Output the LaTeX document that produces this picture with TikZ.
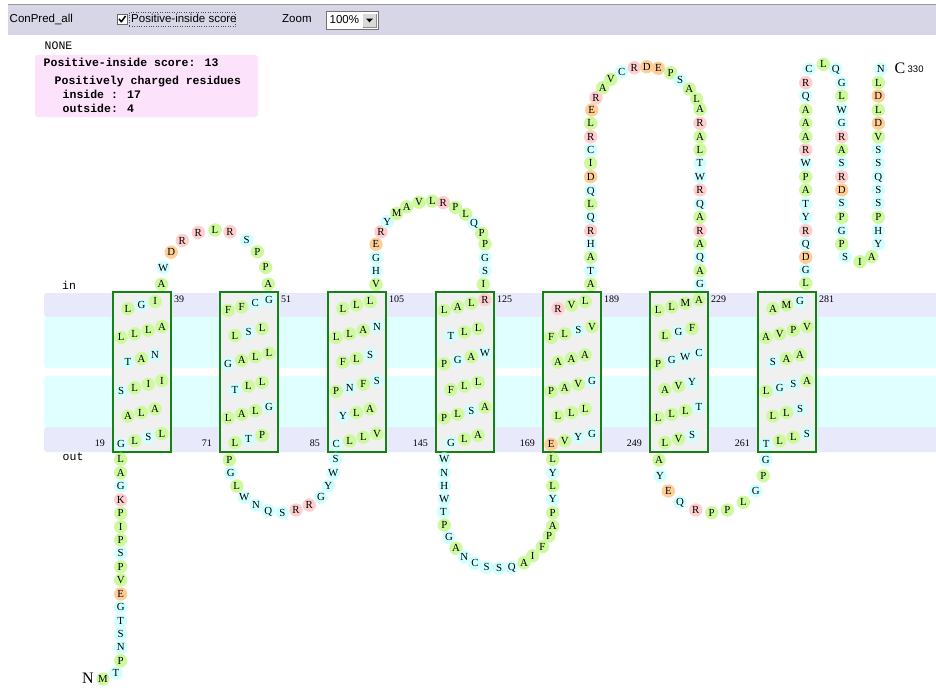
\documentclass[tikz,border=0pt]{standalone}
\usepackage{fontspec}
\setmainfont{Liberation Serif}
\newfontfamily\monof{Liberation Mono}
\newfontfamily\sansf{Liberation Sans}
\definecolor{hg}{RGB}{206,250,158}
\definecolor{hc}{RGB}{208,255,255}
\definecolor{hp}{RGB}{255,206,206}
\definecolor{ho}{RGB}{255,206,150}
\definecolor{lav}{RGB}{232,234,252}
\definecolor{cyb}{RGB}{224,255,255}
\definecolor{barc}{RGB}{214,214,230}
\definecolor{pinkc}{RGB}{252,226,250}
\definecolor{boxg}{RGB}{20,130,20}
\colorlet{cA}{hg}\colorlet{cF}{hg}\colorlet{cI}{hg}\colorlet{cL}{hg}
\colorlet{cM}{hg}\colorlet{cP}{hg}\colorlet{cV}{hg}
\colorlet{cC}{hc}\colorlet{cG}{hc}\colorlet{cH}{hc}\colorlet{cN}{hc}
\colorlet{cQ}{hc}\colorlet{cS}{hc}\colorlet{cT}{hc}\colorlet{cW}{hc}\colorlet{cY}{hc}
\colorlet{cK}{hp}\colorlet{cR}{hp}
\colorlet{cD}{ho}\colorlet{cE}{ho}
\tikzset{
  res/.style={inner sep=0pt, text height=7.1pt, text depth=0pt, font=\fontsize{10.8}{11}\selectfont},
  numl/.style={inner sep=0pt, text height=6.7pt, text depth=0pt, font=\fontsize{10}{10}\selectfont},
  hbox/.style={draw=boxg, line width=1.8pt, fill=black!6},
  monot/.style={inner sep=0pt, anchor=west, text height=7pt, text depth=1.5pt, font=\monof\fontsize{11.5}{12}\selectfont},
  monob/.style={monot, font=\monof\bfseries\fontsize{11.5}{12}\selectfont},
  uit/.style={inner sep=0pt, anchor=west, text height=8pt, text depth=2pt, font=\sansf\fontsize{11.5}{12}\selectfont}
}
\newif\ifcircs
\newcount\resno
\newcommand\rr[3]{%
  \global\advance\resno by 1
  \ifcircs
    \edef\tmpc{c#1}%
    \fill[fill=\tmpc] (#2,#3) circle (6.7);%
  \else
    \node[res] (res\the\resno) at (#2,#3) {#1};%
  \fi}
\newcommand\hrow[3]{%
  \foreach \l [count=\k] in {#3} {\xdef\nn{\k}}%
  \foreach \l [count=\k] in {#3} {%
    \pgfmathsetmacro\xx{#1+(\k-(\nn+1)/2)*13.6}%
    \pgfmathsetmacro\yy{#2-(\k-(\nn+1)/2)*3.6}%
    \rr{\l}{\xx}{\yy}}}
\newcommand\helix[7]{%
  \pgfmathsetmacro\cx{#1+28.5}%
  \hrow{\cx}{305}{#2}\hrow{\cx}{332}{#3}\hrow{\cx}{358.5}{#4}%
  \hrow{\cx}{386}{#5}\hrow{\cx}{412.5}{#6}\hrow{\cx}{439}{#7}}
\newcommand\hframe[3]{%
  \draw[hbox] (#1,292) rectangle ++(58,160);
  \node[numl,anchor=west] (top#1) at (#1+61,299) {#2};
  \node[numl,anchor=east] (bot#1) at (#1-8,443.5) {#3};}
\newcommand\resloop[1]{\foreach \a/\b/\c in {#1} {\rr{\a}{\b}{\c}}}
\newcommand\allres{%
\helix{113}{L,G,I}{L,L,L,A}{T,A,N}{S,L,I,I}{A,L,A}{G,L,S,L}
\helix{220}{F,F,C,G}{L,S,L}{G,A,L,L}{T,L,L}{L,A,L,G}{L,T,P}
\helix{328}{L,L,L}{L,L,A,N}{F,L,S}{P,N,F,S}{Y,L,A}{C,L,L,V}
\helix{436}{L,A,L,R}{T,L,L}{P,G,A,W}{F,L,L}{P,L,S,A}{G,L,A}
\helix{543}{R,V,L}{F,L,S,V}{A,A,A}{P,A,V,G}{L,L,L}{E,V,Y,G}
\helix{650}{L,L,M,A}{L,G,F}{P,G,W,C}{A,V,Y}{L,L,L,T}{L,V,S}
\helix{758}{A,M,G}{A,V,P,V}{S,A,A}{L,G,S,A}{L,L,S}{T,L,L,S}
\resloop{M/103/679, T/116/673, P/120.7/660.7, N/120.7/647.3, S/120.7/634, T/120.7/620.7, G/120.7/607.3, E/120.7/594, V/120.7/580, P/120.7/566.7, S/120.7/553.3, P/120.7/540, I/120.7/526.7, P/120.7/513.3, K/120.7/500, G/120.7/486, A/120.7/472.7, L/120.7/459.3}
\resloop{A/161.5/284.3, W/163.3/267.5, D/171.2/252.2, R/182.3/240.5, R/198.3/232.5, L/215/230, R/230/231.7, S/246.7/240, P/257.3/251.7, P/265.7/267.3, A/268.3/284}
\resloop{P/229.3/460, G/230.7/472.7, L/236.7/486, W/244.3/497.3, N/256/505, Q/268.3/510.7, S/282.3/512.7, R/296/510, R/309.3/505, G/321/497.3, Y/328.3/486, W/333.3/473.3, S/335.7/459.3}
\resloop{V/376/284.3, H/376/270.7, G/376/257.7, E/376/244.3, R/381/231.7, Y/387.3/221.7, M/396.7/213.3, A/406.7/206.7, V/419/202.3, L/432.3/201, R/443.3/202.7, P/455.3/207.3, L/465.7/214.3, Q/474/223.3, P/481.7/233.3, P/485/244, G/485/257.7, S/485/270.7, I/483.3/284.3}
\resloop{W/444.3/459, N/444.3/472.7, H/444.3/485.7, W/444.3/499, T/443.3/511.7, P/444.3/525, G/449/537.3, A/456/548.3, N/464.3/556.7, C/475/563.3, S/486.7/567.3, S/499/568.3, Q/511.7/567.3, A/524/562.7, I/532.7/555.7, F/542.3/546.7, P/549/535.7, A/552.7/526, P/552.7/512.7, Y/552.7/499.3, L/552.7/486, Y/552.7/472.7, L/552.7/459.3}
\resloop{A/590.7/284.3, T/590.7/270.7, A/590.7/257.3, H/590.7/244, R/590.7/230.7, Q/590.7/217.3, L/590.7/204, Q/590.7/190.7, D/590.7/176.7, I/590.7/163.3, C/590.7/150, R/590.7/136.7, L/590.7/123.3, E/591.7/110, R/596/97.7, A/602.7/87.7, V/610.7/79.3, C/621.7/71.7, R/634.3/67.7, D/646.7/66.7, E/658.3/68.3, P/670.7/72.7, S/680/80, A/689.3/89, L/696.7/99, A/700/109.3, R/700/123.3, A/700/136.7, L/700/150, T/700/163.3, W/700/176.7, R/700/190, Q/700/204, A/700/217.3, R/700/230.7, A/700/244, Q/700/257.3, A/700/270.7, G/700/284.3}
\resloop{A/659/460, Y/660/475.7, E/668.3/491, Q/680/502.3, R/695.7/510, P/711.7/512.7, P/727.3/510, L/743.3/502.3, G/755.7/491, P/763.3/475.7, G/765.7/460}
\resloop{L/805.7/283.3, G/805.7/270.3, D/805.7/257.3, Q/805.7/244, R/805.7/230.7, Y/805.7/217.3, T/805.7/203.7, A/805.7/190, P/805.7/176.7, W/805.7/163.3, R/805.7/150, A/805.7/136.7, A/805.7/123.3, A/805.7/110, Q/805.7/96, R/805.7/82.7, C/809/69, L/823.3/64.3, Q/835.7/69, G/841.7/82.7, L/841.7/96, W/841.7/110, G/841.7/123.3, R/841.7/136.7, A/841.7/150, S/841.7/163.3, R/841.7/176.7, D/841.7/190, S/841.7/203.3, P/841.7/217.3, G/841.7/230.7, P/841.7/244, S/845/256.7, I/860/261.7, A/871.7/256.7, Y/878.3/244, H/878.3/230.7, P/878.3/217.3, S/878.3/203.3, S/878.3/190, Q/878.3/176.7, S/878.3/163.3, S/878.3/150, V/878.3/136.7, D/878.3/123.3, L/878.3/110, D/878.3/96, L/878.3/82.7, N/880.7/69}}
\begin{document}
\begin{tikzpicture}[x=1pt,y=-1pt]
\useasboundingbox (0,0) rectangle (936,688);
\fill[white] (0,0) rectangle (936,688);
% top bar
\fill[barc] (8,4) rectangle (936,35);
\draw[black!40, line width=1pt] (8,4.5) -- (936,4.5);
\node[uit] (conpred) at (9.5,19.5) {ConPred\_all};
\node[draw=black!60, fill=white, minimum size=10pt, inner sep=0pt] (cbox) at (122,19) {};
\draw[line width=1.5pt, line join=round] (119,18.8) -- (121.3,21.8) -- (125.5,16);
\draw[black!70, dotted] (129,12.5) rectangle (235,26.5);
\node[uit] (pis) at (131,19.5) {Positive-inside score};
\node[uit] (zoomt) at (282,19.5) {Zoom};
\draw[black!55, fill=white] (326,11.5) rectangle (378,29);
\node[uit] (pct) at (329.5,20.3) {100\%};
\fill[black!15] (362.5,13.5) rectangle (376.5,27);
\draw[black!45] (362.5,27) -- (376.5,27) -- (376.5,13.5);
\fill (366,18.5) -- (373,18.5) -- (369.5,22.3) -- cycle;
% info
\node[monot] (none) at (44.5,47) {NONE};
\fill[pinkc, rounded corners=3pt] (35,55) rectangle (258,117);
\node[monob] (score) at (43.5,64) {Positive-inside score: 13};
\node[monob] (pcr) at (54.5,82) {Positively charged residues};
\node[monob] (ins) at (62.5,96) {inside : 17};
\node[monob] (outs) at (62.5,109.5) {outside: 4};
% membrane bands
\fill[lav, rounded corners=3pt] (44,293) rectangle (946,317);
\fill[cyb, rounded corners=3pt] (44,317) rectangle (946,368);
\fill[cyb, rounded corners=3pt] (44,376) rectangle (946,427);
\fill[lav, rounded corners=3pt] (44,427) rectangle (946,452);
\node[monot] (intext) at (62,287) {in};
\node[monot] (outtext) at (62.5,458) {out};
% helix frames
\hframe{113}{39}{19}
\hframe{220}{51}{71}
\hframe{328}{105}{85}
\hframe{436}{125}{145}
\hframe{543}{189}{169}
\hframe{650}{229}{249}
\hframe{758}{281}{261}
% residues: circles first, then letters
\circstrue
\allres
\circsfalse
\global\resno=0
\allres
% termini
\node[inner sep=0pt, font=\fontsize{16}{16}\selectfont] (nterm) at (88,678) {N};
\node[inner sep=0pt, font=\fontsize{16}{16}\selectfont] (cterm) at (900,68.5) {C};
\node[inner sep=0pt, anchor=west, font=\sansf\fontsize{9.5}{10}\selectfont] (clen) at (907.5,69.5) {330};
\end{tikzpicture}
\end{document}
